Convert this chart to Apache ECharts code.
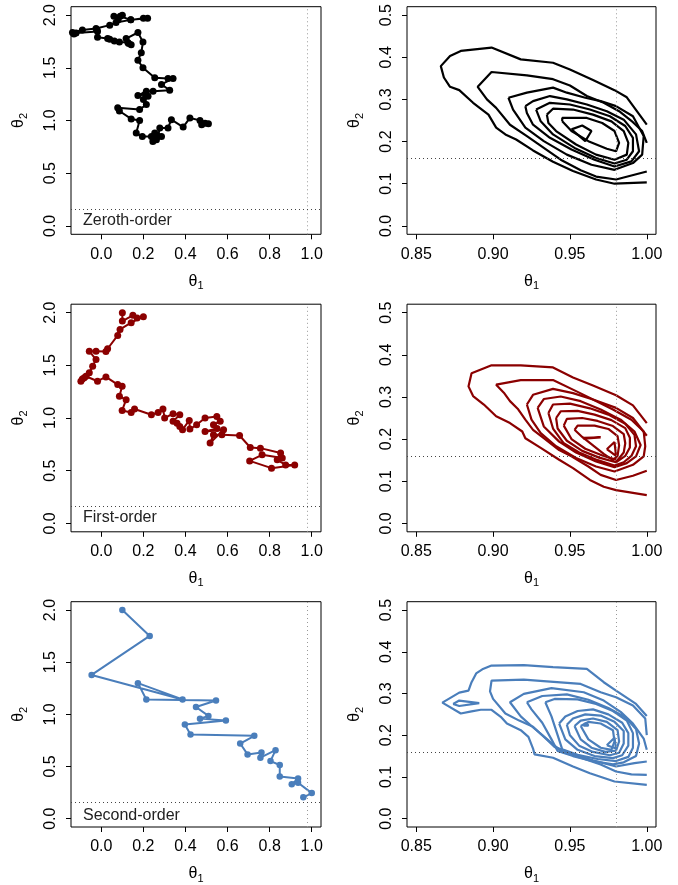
<!DOCTYPE html>
<html><head><meta charset="utf-8">
<script src="https://cdn.jsdelivr.net/npm/echarts@6/dist/echarts.min.js"></script>
<style>html,body{margin:0;padding:0;background:#fff}#c{width:678px;height:885px}</style>
</head><body><div id="c"></div>
<script>
const FONT = '"Liberation Sans", Arial, Helvetica, sans-serif';

// ---- tick labels ----
const leftXTicks = [0.0, 0.2, 0.4, 0.6, 0.8, 1.0];
const leftYTicks = [0.0, 0.5, 1.0, 1.5, 2.0];
const rightXTicks = [0.85, 0.90, 0.95, 1.00];
const rightYTicks = [0.0, 0.1, 0.2, 0.3, 0.4, 0.5];
const panelLabels = ['Zeroth-order', 'First-order', 'Second-order'];
const rowColors = ['#000000', '#8b0000', '#4a7ebb'];
const trueTheta1 = 0.98;
const trueTheta2 = 0.16;

// ---- MCMC chains (theta1, theta2) ----
const zerothChain = [[0.10,2.00],[0.06,1.99],[0.08,1.955],[0.09,1.99],[0.14,1.955],[0.20,1.97],[0.22,1.97],[0.14,1.955],[0.07,1.93],[0.04,1.905],[-0.025,1.873],[-0.02,1.86],[-0.09,1.86],[-0.137,1.835],[-0.13,1.82],[-0.12,1.83],[-0.018,1.845],[-0.018,1.79],[0.03,1.778],[0.04,1.77],[0.062,1.755],[0.086,1.745],[0.126,1.74],[0.142,1.72],[0.13,1.73],[0.118,1.778],[0.174,1.835],[0.198,1.745],[0.19,1.644],[0.174,1.571],[0.198,1.501],[0.254,1.406],[0.317,1.399],[0.341,1.399],[0.286,1.342],[0.325,1.288],[0.246,1.278],[0.214,1.278],[0.174,1.237],[0.21,1.25],[0.222,1.23],[0.2,1.2],[0.214,1.151],[0.182,1.104],[0.078,1.12],[0.086,1.09],[0.142,1.015],[0.182,1.001],[0.166,0.881],[0.195,0.849],[0.238,0.849],[0.25,0.83],[0.262,0.817],[0.245,0.80],[0.254,0.881],[0.286,0.849],[0.27,0.85],[0.278,0.929],[0.317,0.929],[0.333,1.008],[0.389,0.938],[0.421,1.024],[0.469,1.001],[0.509,0.97],[0.493,0.975],[0.477,0.96]];
const firstChain = [[0.10,2.00],[0.10,1.92],[0.15,1.974],[0.17,1.95],[0.20,1.962],[0.142,1.905],[0.089,1.841],[0.078,1.784],[0.03,1.657],[0.022,1.63],[-0.025,1.634],[-0.057,1.634],[-0.025,1.555],[-0.041,1.492],[-0.057,1.429],[-0.081,1.381],[-0.097,1.349],[-0.09,1.37],[-0.073,1.396],[-0.018,1.349],[0.022,1.39],[0.078,1.317],[0.099,1.301],[0.086,1.206],[0.118,1.174],[0.099,1.072],[0.142,1.053],[0.158,1.086],[0.238,1.031],[0.27,1.053],[0.293,1.086],[0.301,1.0],[0.341,1.041],[0.373,1.031],[0.341,0.968],[0.36,0.95],[0.373,0.92],[0.386,0.889],[0.418,0.977],[0.421,0.895],[0.453,0.936],[0.493,1.0],[0.549,1.015],[0.565,0.968],[0.533,0.936],[0.55,0.90],[0.493,0.872],[0.581,0.889],[0.517,0.762],[0.533,0.841],[0.573,0.841],[0.657,0.834],[0.708,0.72],[0.756,0.714],[0.852,0.667],[0.836,0.603],[0.876,0.555],[0.919,0.555],[0.809,0.524],[0.705,0.593],[0.764,0.651],[0.86,0.62]];
const secondChain = [[0.10,2.00],[0.23,1.752],[-0.046,1.378],[0.386,1.143],[0.174,1.299],[0.214,1.143],[0.545,1.133],[0.45,1.07],[0.509,0.985],[0.469,0.959],[0.592,0.94],[0.397,0.902],[0.424,0.807],[0.727,0.794],[0.66,0.72],[0.695,0.616],[0.761,0.635],[0.756,0.585],[0.828,0.657],[0.804,0.552],[0.848,0.514],[0.848,0.404],[0.935,0.385],[0.905,0.33],[0.935,0.345],[1.0,0.245],[0.96,0.205]];

// ---- posterior density contours (theta1, theta2) ----
const zerothContours = [
 [[1.0,0.240],[0.987,0.305],[0.979,0.322],[0.965,0.346],[0.950,0.371],[0.939,0.387],[0.918,0.395],[0.899,0.423],[0.879,0.415],[0.872,0.403],[0.866,0.379],[0.868,0.352],[0.872,0.330],[0.878,0.322],[0.887,0.292],[0.897,0.264],[0.902,0.233],[0.908,0.217],[0.915,0.205],[0.926,0.179],[0.939,0.152],[0.952,0.130],[0.967,0.110],[0.979,0.100],[1.0,0.103]],
 [[1.0,0.197],[0.997,0.225],[0.991,0.246],[0.982,0.272],[0.972,0.292],[0.961,0.308],[0.950,0.333],[0.939,0.348],[0.922,0.357],[0.899,0.365],[0.890,0.330],[0.896,0.300],[0.902,0.280],[0.911,0.240],[0.922,0.213],[0.933,0.185],[0.944,0.157],[0.957,0.132],[0.967,0.117],[0.980,0.110],[1.0,0.129]],
 [[0.910,0.304],[0.922,0.316],[0.939,0.328],[0.948,0.316],[0.960,0.304],[0.970,0.296],[0.980,0.284],[0.991,0.260],[0.998,0.213],[0.997,0.169],[0.991,0.149],[0.979,0.133],[0.964,0.145],[0.948,0.169],[0.933,0.201],[0.921,0.233],[0.913,0.276],[0.910,0.304]],
 [[0.921,0.284],[0.926,0.296],[0.937,0.308],[0.948,0.300],[0.961,0.288],[0.974,0.272],[0.985,0.252],[0.993,0.217],[0.995,0.177],[0.990,0.153],[0.979,0.141],[0.966,0.157],[0.951,0.181],[0.937,0.209],[0.926,0.240],[0.922,0.268],[0.921,0.284]],
 [[0.928,0.276],[0.937,0.292],[0.950,0.288],[0.963,0.276],[0.976,0.260],[0.986,0.237],[0.991,0.209],[0.991,0.177],[0.987,0.157],[0.979,0.148],[0.967,0.161],[0.953,0.185],[0.939,0.217],[0.931,0.248],[0.928,0.276]],
 [[0.935,0.264],[0.939,0.278],[0.952,0.276],[0.965,0.264],[0.977,0.248],[0.985,0.225],[0.988,0.197],[0.987,0.169],[0.979,0.157],[0.967,0.169],[0.954,0.193],[0.941,0.225],[0.936,0.244],[0.935,0.264]],
 [[0.945,0.248],[0.945,0.256],[0.961,0.256],[0.971,0.244],[0.979,0.225],[0.982,0.197],[0.980,0.177],[0.974,0.183],[0.962,0.201],[0.951,0.225],[0.945,0.248]],
 [[0.951,0.229],[0.958,0.238],[0.964,0.225],[0.960,0.201],[0.951,0.229]]
];
const firstContours = [
 [[1.0,0.238],[0.991,0.280],[0.980,0.304],[0.965,0.327],[0.952,0.346],[0.939,0.370],[0.918,0.375],[0.899,0.375],[0.886,0.356],[0.884,0.325],[0.887,0.302],[0.894,0.282],[0.902,0.254],[0.911,0.238],[0.919,0.218],[0.921,0.202],[0.931,0.179],[0.943,0.151],[0.952,0.131],[0.963,0.103],[0.972,0.087],[0.980,0.079],[1.0,0.067]],
 [[1.0,0.208],[0.991,0.250],[0.980,0.274],[0.965,0.294],[0.955,0.312],[0.939,0.340],[0.918,0.340],[0.902,0.329],[0.907,0.310],[0.911,0.290],[0.916,0.272],[0.921,0.246],[0.926,0.222],[0.933,0.202],[0.943,0.174],[0.951,0.159],[0.962,0.135],[0.970,0.115],[0.980,0.103],[0.991,0.113],[1.0,0.125]],
 [[0.922,0.282],[0.926,0.305],[0.939,0.319],[0.952,0.309],[0.965,0.294],[0.978,0.270],[0.990,0.246],[0.998,0.218],[0.999,0.183],[0.998,0.159],[0.991,0.139],[0.979,0.123],[0.967,0.135],[0.954,0.155],[0.941,0.183],[0.931,0.214],[0.925,0.246],[0.922,0.282]],
 [[0.929,0.274],[0.933,0.295],[0.944,0.301],[0.957,0.290],[0.970,0.270],[0.983,0.246],[0.992,0.218],[0.996,0.186],[0.993,0.159],[0.987,0.143],[0.979,0.133],[0.967,0.147],[0.954,0.168],[0.943,0.194],[0.933,0.230],[0.929,0.274]],
 [[0.936,0.262],[0.939,0.282],[0.950,0.284],[0.963,0.273],[0.975,0.258],[0.986,0.236],[0.992,0.210],[0.993,0.183],[0.990,0.160],[0.985,0.145],[0.979,0.137],[0.968,0.150],[0.956,0.168],[0.946,0.190],[0.939,0.225],[0.936,0.262]],
 [[0.941,0.250],[0.944,0.266],[0.955,0.267],[0.966,0.258],[0.977,0.245],[0.986,0.226],[0.989,0.203],[0.989,0.180],[0.986,0.160],[0.980,0.145],[0.969,0.156],[0.958,0.172],[0.948,0.196],[0.942,0.225],[0.941,0.250]],
 [[0.946,0.232],[0.948,0.248],[0.958,0.250],[0.968,0.243],[0.978,0.231],[0.985,0.212],[0.986,0.190],[0.985,0.168],[0.981,0.150],[0.972,0.160],[0.960,0.177],[0.951,0.200],[0.946,0.232]],
 [[0.953,0.222],[0.955,0.232],[0.966,0.232],[0.975,0.224],[0.981,0.207],[0.982,0.185],[0.981,0.160],[0.978,0.150],[0.972,0.165],[0.965,0.185],[0.958,0.205],[0.953,0.222]],
 [[0.959,0.203],[0.970,0.204],[0.970,0.200],[0.959,0.201],[0.959,0.203]],
 [[0.974,0.176],[0.979,0.193],[0.980,0.160],[0.974,0.176]]
];
const secondContours = [
 [[1.0,0.246],[0.993,0.275],[0.980,0.307],[0.972,0.327],[0.961,0.359],[0.939,0.363],[0.920,0.368],[0.899,0.367],[0.893,0.358],[0.889,0.348],[0.886,0.327],[0.884,0.307],[0.878,0.302],[0.867,0.278],[0.879,0.252],[0.886,0.257],[0.892,0.261],[0.899,0.261],[0.905,0.244],[0.909,0.228],[0.918,0.212],[0.923,0.196],[0.926,0.168],[0.927,0.154],[0.939,0.146],[0.952,0.125],[0.963,0.109],[0.979,0.089],[1.0,0.081]],
 [[0.874,0.275],[0.878,0.283],[0.891,0.277],[0.878,0.270],[0.874,0.275]],
 [[1.0,0.200],[0.999,0.240],[0.991,0.271],[0.980,0.291],[0.970,0.303],[0.957,0.323],[0.935,0.329],[0.920,0.333],[0.899,0.331],[0.898,0.305],[0.900,0.287],[0.908,0.252],[0.917,0.235],[0.926,0.220],[0.932,0.200],[0.940,0.175],[0.945,0.160],[0.958,0.145],[0.970,0.130],[0.980,0.113],[0.990,0.106],[1.0,0.105]],
 [[1.0,0.165],[0.998,0.192],[0.991,0.228],[0.983,0.256],[0.972,0.283],[0.959,0.303],[0.938,0.313],[0.920,0.299],[0.911,0.279],[0.918,0.245],[0.925,0.222],[0.932,0.200],[0.940,0.172],[0.952,0.155],[0.965,0.140],[0.980,0.125],[0.992,0.133],[1.0,0.137]],
 [[0.922,0.279],[0.932,0.294],[0.948,0.298],[0.962,0.285],[0.975,0.265],[0.986,0.243],[0.993,0.215],[0.995,0.180],[0.993,0.150],[0.985,0.135],[0.978,0.130],[0.965,0.138],[0.952,0.150],[0.942,0.162],[0.938,0.190],[0.932,0.230],[0.925,0.262],[0.922,0.279]],
 [[0.934,0.279],[0.940,0.287],[0.955,0.286],[0.967,0.275],[0.978,0.258],[0.987,0.235],[0.991,0.205],[0.991,0.170],[0.988,0.148],[0.980,0.138],[0.968,0.143],[0.955,0.153],[0.945,0.166],[0.942,0.200],[0.938,0.245],[0.934,0.279]],
 [[0.943,0.228],[0.947,0.245],[0.955,0.258],[0.965,0.262],[0.975,0.250],[0.984,0.230],[0.988,0.205],[0.988,0.175],[0.984,0.152],[0.978,0.145],[0.966,0.150],[0.955,0.165],[0.947,0.190],[0.943,0.228]],
 [[0.948,0.225],[0.952,0.240],[0.960,0.250],[0.970,0.247],[0.979,0.232],[0.985,0.210],[0.985,0.180],[0.982,0.158],[0.976,0.152],[0.965,0.160],[0.956,0.175],[0.950,0.200],[0.948,0.225]],
 [[0.953,0.222],[0.957,0.235],[0.965,0.240],[0.974,0.232],[0.981,0.212],[0.982,0.185],[0.980,0.163],[0.973,0.160],[0.964,0.170],[0.957,0.190],[0.953,0.222]],
 [[0.957,0.222],[0.962,0.232],[0.970,0.228],[0.978,0.212],[0.979,0.185],[0.977,0.165],[0.970,0.170],[0.962,0.190],[0.957,0.222]],
 [[0.959,0.227],[0.961,0.229],[0.962,0.223],[0.959,0.223],[0.959,0.227]],
 [[0.974,0.176],[0.979,0.194],[0.980,0.168],[0.974,0.176]]
];

const chains = [zerothChain, firstChain, secondChain];
const contourSets = [zerothContours, firstContours, secondContours];

// ---- layout ----
const rowTops = [6.7, 304.2, 601.7];
const plotH = 227.6;
const leftPanel = {left: 71, width: 250, min: -0.144, max: 1.044, ymin: -0.08, ymax: 2.08, xt: leftXTicks, yt: leftYTicks, xd: 1, yd: 1};
const rightPanel = {left: 407, width: 249, min: 0.844, max: 1.006, ymin: -0.02, ymax: 0.52, xt: rightXTicks, yt: rightYTicks, xd: 2, yd: 1};

const grids = [], xAxes = [], yAxes = [], series = [], graphics = [];
const rich = {
  t: {fontSize: 16, lineHeight: 20, fontFamily: FONT, color: '#000'},
  s: {fontSize: 11, lineHeight: 10, verticalAlign: 'bottom', fontFamily: FONT, color: '#000'}
};
const refLines = {
  silent: true, symbol: ['none', 'none'], label: {show: false}, animation: false,
  data: [
    {xAxis: trueTheta1, lineStyle: {color: '#999', type: [1, 3], width: 1}},
    {yAxis: trueTheta2, lineStyle: {color: '#444', type: [1, 3], width: 1}}
  ]
};

function addPanel(p, top) {
  const i = grids.length;
  grids.push({left: p.left, top: top, width: p.width, height: plotH, show: true, borderColor: '#000', borderWidth: 1, backgroundColor: 'transparent', containLabel: false});
  xAxes.push({
    type: 'value', gridIndex: i, min: p.min, max: p.max, position: 'bottom',
    axisLine: {show: false, onZero: false}, splitLine: {show: false},
    axisTick: {show: true, length: 5, lineStyle: {color: '#000', width: 1}, customValues: p.xt},
    axisLabel: {customValues: p.xt, formatter: v => Number(v).toFixed(p.xd), color: '#000', fontSize: 16, fontFamily: FONT, margin: 12},
    name: '{t|θ}{s|1}', nameLocation: 'middle', nameGap: 37, nameTextStyle: {rich: rich}
  });
  yAxes.push({
    type: 'value', gridIndex: i, min: p.ymin, max: p.ymax, position: 'left',
    axisLine: {show: false, onZero: false}, splitLine: {show: false},
    axisTick: {show: true, length: 5, lineStyle: {color: '#000', width: 1}, customValues: p.yt},
    axisLabel: {customValues: p.yt, formatter: v => Number(v).toFixed(p.yd), color: '#000', fontSize: 16, fontFamily: FONT, margin: 12, rotate: 90},
    name: '{t|θ}{s|2}', nameLocation: 'middle', nameGap: 42, nameRotate: 90, nameTextStyle: {rich: rich}
  });
  return i;
}

for (let r = 0; r < 3; r++) {
  const col = rowColors[r];
  const li = addPanel(leftPanel, rowTops[r]);
  series.push({
    type: 'line', xAxisIndex: li, yAxisIndex: li, data: chains[r],
    symbol: 'circle', symbolSize: r === 2 ? 6.5 : 7, showSymbol: true,
    lineStyle: {color: col, width: 2}, itemStyle: {color: col}, z: 3,
    animation: false, markLine: refLines
  });
  graphics.push({type: 'text', x: 83, y: rowTops[r] + 213.5, style: {text: panelLabels[r], fontSize: 16, fontFamily: FONT, fill: '#222', verticalAlign: 'middle'}});

  const ri = addPanel(rightPanel, rowTops[r]);
  contourSets[r].forEach((c, k) => {
    const s = {
      type: 'line', xAxisIndex: ri, yAxisIndex: ri, data: c,
      symbol: 'none', showSymbol: false,
      lineStyle: {color: col, width: 2.2}, z: 3, animation: false
    };
    if (k === 0) s.markLine = refLines;
    series.push(s);
  });
}

const chart = echarts.init(document.getElementById('c'), null, {renderer: 'canvas'});
chart.setOption({
  animation: false,
  backgroundColor: '#fff',
  grid: grids, xAxis: xAxes, yAxis: yAxes, series: series, graphic: graphics
});
</script></body></html>
